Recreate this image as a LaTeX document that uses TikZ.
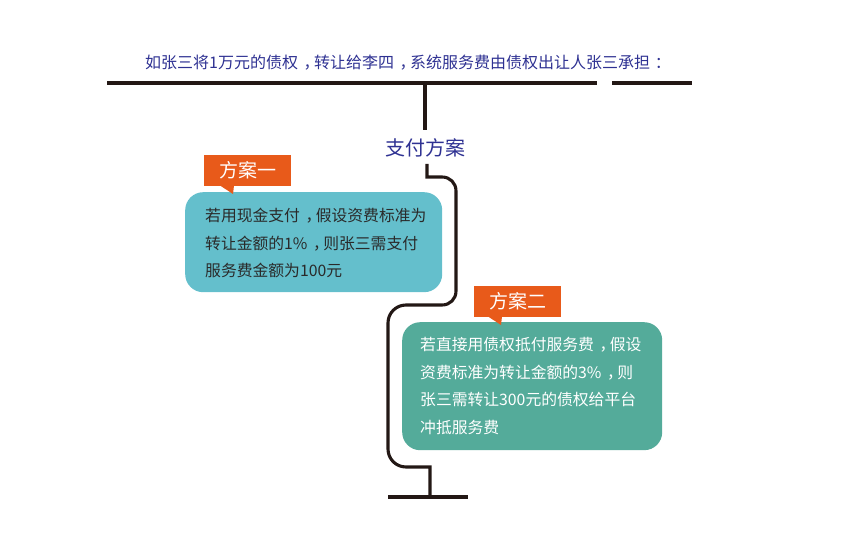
\documentclass[tikz,border=0pt]{standalone}
\usepackage{fontspec}
\newfontfamily\cjk{Noto Sans CJK SC}
\newcommand\fwcomma{\kern0.35em，\kern-0.35em}
\definecolor{titleblue}{HTML}{2E3192}
\definecolor{linedark}{HTML}{231815}
\definecolor{boxblue}{HTML}{64BFCC}
\definecolor{boxgreen}{HTML}{54AB9A}
\definecolor{tagorange}{HTML}{E85A1A}
\definecolor{textdark}{HTML}{2A2A2A}
\tikzset{
  rail/.style={draw=linedark, line width=3.1pt},
  infobox/.style={rounded corners=18pt, inner sep=0pt, anchor=north west},
  tagbox/.style={fill=tagorange, inner sep=0pt, anchor=north west, text=white, font=\cjk\fontsize{19}{22}\selectfont},
  boxtext/.style={inner sep=0pt, align=left, anchor=west, font=\cjk\fontsize{15.8}{27.5}\selectfont},
}
\begin{document}
\begin{tikzpicture}[x=1pt,y=-1pt]
\useasboundingbox (0,0) rectangle (850,556);
% title
\node[text=titleblue, font=\cjk\fontsize{16}{18}\selectfont, inner sep=0pt, anchor=west] (title) at (145,63) {如张三将1万元的债权\fwcomma 转让给李四\fwcomma 系统服务费由债权出让人张三承担\kern0.3em：};
\coordinate (tl1) at (107,83);
\coordinate (tl2) at (597,83);
\coordinate (tl3) at (612,83);
\coordinate (tl4) at (692,83);
\coordinate (stemtop) at (425,83);
\coordinate (stembot) at (425,130);
\draw[rail] (tl1) -- (tl2);
\draw[rail] (tl3) -- (tl4);
\draw[rail] (stemtop) -- (stembot);
% central label
\node[text=titleblue, font=\cjk\fontsize{20}{22}\selectfont, inner sep=0pt] (pay) at (425,148) {支付方案};
% winding line
\coordinate (wstart) at (427,164);
\coordinate (wend) at (430,497);
\draw[rail] (wstart) -- (427,177) -- (442,177) .. controls (450,177) and (456,183) .. (456,191)
  -- (456,291) .. controls (456,299) and (450,305) .. (442,305)
  -- (406,305) .. controls (396,305) and (388,313) .. (388,323)
  -- (388,449) .. controls (388,459) and (396,467) .. (406,467)
  -- (430,467) -- (wend);
\coordinate (bl1) at (388,497);
\coordinate (bl2) at (468,497);
\draw[rail] (bl1) -- (bl2);
% box one
\node[infobox, fill=boxblue, minimum width=257pt, minimum height=100pt] (b1) at (185,192) {};
\node[boxtext, text=textdark] (t1) at ([xshift=20pt,yshift=-1pt]b1.west) {若用现金支付\fwcomma 假设资费标准为\\转让金额的1\%\fwcomma 则张三需支付\\服务费金额为100元};
\node[tagbox, minimum width=87pt, minimum height=31pt] (g1) at (204,155) {方案一};
\fill[tagorange] (220,185.5) -- (234,185.5) -- (233,194) -- cycle;
% box two
\node[infobox, fill=boxgreen, minimum width=260pt, minimum height=128pt] (b2) at (402,322) {};
\node[boxtext, text=white] (t2) at ([xshift=18pt]b2.west) {若直接用债权抵付服务费\fwcomma 假设\\资费标准为转让金额的3\%\fwcomma 则\\张三需转让300元的债权给平台\\冲抵服务费};
\node[tagbox, minimum width=87pt, minimum height=31pt] (g2) at (474,286) {方案二};
\fill[tagorange] (488,316.5) -- (502,316.5) -- (501,325) -- cycle;
\end{tikzpicture}
\end{document}
